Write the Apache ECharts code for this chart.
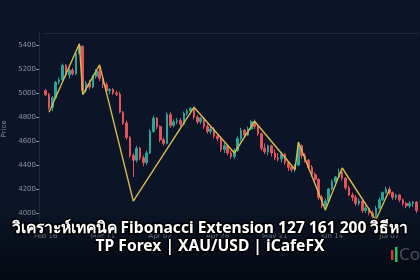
<!DOCTYPE html>
<html><head><meta charset="utf-8">
<script src="https://cdn.jsdelivr.net/npm/echarts@6/dist/echarts.min.js"></script>
<style>html,body{margin:0;padding:0;background:#0b1527;}#c{width:420px;height:280px;}</style>
</head><body><div id="c"></div>
<script>
const opens =[5020,4990,4880,4960,5090,5110,5230,5150,5190,5160,5330,5390,5020,5080,5050,5140,5180,5120,5070,5020,5030,5000,4990,4840,4750,4630,4480,4440,4540,4460,4420,4500,4680,4790,4720,4610,4580,4820,4730,4760,4770,4740,4830,4850,4870,4800,4760,4790,4720,4680,4700,4640,4620,4530,4560,4500,4470,4520,4620,4690,4650,4700,4760,4720,4660,4540,4510,4560,4500,4460,4450,4490,4420,4380,4360,4400,4560,4480,4440,4380,4320,4280,4130,4060,4100,4200,4260,4300,4340,4290,4210,4150,4130,4080,4100,4020,4040,4000,3970,4040,4110,4170,4200,4170,4130,4150,4110,4080,4060,4080,4090];
const closes=[4985,4880,4960,5090,5110,5230,5150,5190,5160,5330,5390,5020,5080,5050,5140,5180,5120,5070,5020,5030,5000,4990,4840,4750,4630,4480,4440,4540,4460,4420,4500,4680,4790,4720,4610,4580,4820,4730,4760,4770,4740,4830,4850,4870,4800,4760,4790,4720,4680,4700,4640,4620,4530,4560,4500,4470,4520,4620,4690,4650,4700,4760,4720,4660,4540,4510,4560,4500,4460,4450,4490,4420,4380,4360,4400,4560,4480,4440,4380,4320,4280,4130,4060,4100,4200,4260,4300,4340,4290,4210,4150,4130,4080,4100,4020,4040,4000,3970,4040,4110,4170,4200,4170,4130,4150,4110,4080,4060,4080,4090,4020];
const lows  =[4975,4860,4850,4950,5070,5100,5130,5120,5145,5150,5320,4990,5000,5030,5040,5120,5100,5040,5000,4990,4985,4975,4830,4735,4610,4460,4300,4420,4440,4390,4400,4490,4670,4700,4590,4560,4570,4710,4715,4740,4720,4730,4810,4830,4780,4740,4740,4700,4660,4660,4620,4600,4510,4500,4480,4450,4450,4510,4600,4640,4640,4690,4700,4640,4520,4490,4480,4470,4440,4430,4420,4400,4350,4340,4340,4390,4450,4420,4360,4300,4260,4110,4040,4020,4090,4190,4250,4290,4270,4190,4140,4100,4060,4060,4000,4000,3980,3950,3945,4030,4100,4160,4150,4110,4110,4090,4060,4040,4040,4050,4000];
const highs =[5035,5000,4975,5100,5130,5245,5240,5205,5210,5345,5410,5395,5100,5110,5150,5200,5230,5140,5090,5040,5040,5020,5010,4850,4770,4640,4500,4560,4550,4480,4520,4700,4810,4800,4730,4630,4840,4840,4780,4790,4790,4845,4870,4885,4880,4815,4800,4800,4740,4720,4715,4660,4640,4580,4570,4520,4540,4640,4710,4700,4720,4775,4780,4735,4670,4580,4570,4570,4530,4500,4510,4500,4430,4400,4410,4580,4570,4500,4450,4400,4340,4290,4150,4120,4210,4280,4310,4370,4370,4300,4230,4170,4150,4120,4110,4060,4050,4020,4060,4130,4180,4220,4220,4180,4160,4160,4120,4090,4100,4100,4100];
const tickLabels=['Feb 16','Mar 11','Apr 02','Apr 28','May 21','Jun 14','Jul 07'];
const tickIndex=[0,17,34,51,68,85,102];
const zigIdx  =[1,10,11,16,26,44,56,62,74,75,83,88,98,102];
const zigPrice=[4839,5411,4986,5234,4099,4881,4500,4765,4362,4591,4025,4375,3942,4191];
const yTicks=[4000,4200,4400,4600,4800,5000,5200,5400];
const title1='วิเคราะห์เทคนิค Fibonacci Extension 127 161 200 วิธีหา';
const title2='TP Forex | XAU/USD | iCafeFX';

const categories=opens.map((_,i)=>String(i));
const candles=opens.map((o,i)=>[o,closes[i],lows[i],highs[i]]);
const zig=opens.map(()=>null);
zigIdx.forEach((k,j)=>{zig[k]=zigPrice[j];});

const chart=echarts.init(document.getElementById('c'),null,{renderer:'canvas'});
chart.setOption({
  backgroundColor:'#0b1527',
  animation:false,
  grid:{left:44,right:2,top:33,bottom:55,containLabel:false,outerBoundsMode:'none'},
  xAxis:[{
    type:'category',data:categories,boundaryGap:true,
    axisLine:{show:false},axisTick:{show:false},splitLine:{show:false},
    axisLabel:{color:'#8a93a5',fontSize:7,margin:8,fontFamily:'DejaVu Sans',
      interval:(idx)=>tickIndex.includes(idx),
      formatter:(v,idx)=>{const k=tickIndex.indexOf(Number(v));return k>=0?tickLabels[k]:'';}}
  },{
    type:'category',data:categories,position:'top',
    axisLine:{show:true,lineStyle:{color:'#1e293b',width:1}},axisTick:{show:false},axisLabel:{show:false},splitLine:{show:false}
  }],
  yAxis:{
    type:'value',min:3900,max:5500,interval:100,offset:5,
    name:'Price',nameLocation:'middle',nameGap:24,
    nameTextStyle:{color:'#8a93a5',fontSize:7,fontFamily:'DejaVu Sans'},
    axisLine:{show:true,lineStyle:{color:'#1e293b'}},
    axisTick:{show:true,length:3,lineStyle:{color:'#8a93a5'},customValues:yTicks},
    axisLabel:{color:'#8a93a5',fontSize:7,margin:3,fontFamily:'DejaVu Sans',customValues:yTicks,
      formatter:(v)=>yTicks.includes(v)?String(v):''},
    splitLine:{show:false}
  },
  series:[{
    type:'candlestick',data:candles,barWidth:'62%',
    itemStyle:{color:'#26a69a',color0:'#e5535a',borderColor:'#26a69a',borderColor0:'#e5535a',borderWidth:1}
  },{
    type:'line',data:zig,connectNulls:true,symbol:'none',z:5,
    lineStyle:{color:'#d9bb4c',width:1.4}
  }],
  graphic:[
    {type:'rect',shape:{x:0,y:205,width:420,height:75},z:50,silent:true,
      style:{fill:new echarts.graphic.LinearGradient(0,0,0,1,[{offset:0,color:'rgba(0,0,0,0)'},{offset:1,color:'rgba(0,0,0,0.55)'}])}},
    {type:'text',x:210,y:229,z:100,style:{text:title1,fill:'#ffffff',stroke:'#000000',lineWidth:3,
      font:'bold 15.6px "Noto Sans", sans-serif',align:'center',verticalAlign:'middle'}},
    {type:'text',x:210,y:247,z:100,style:{text:title2,fill:'#ffffff',stroke:'#000000',lineWidth:3,
      font:'bold 15.6px "Noto Sans", sans-serif',align:'center',verticalAlign:'middle'}},
    {type:'rect',shape:{x:391,y:250,width:2.5,height:10},z:100,style:{fill:'#d8323a'}},
    {type:'rect',shape:{x:395,y:247,width:2.5,height:15},z:100,style:{fill:'#2fbf5a'}},
    {type:'text',x:399,y:255,z:100,style:{text:'Co',fill:'#4a4f58',font:'17px "Noto Sans", sans-serif',align:'left',verticalAlign:'middle'}}
  ]
});
</script></body></html>
